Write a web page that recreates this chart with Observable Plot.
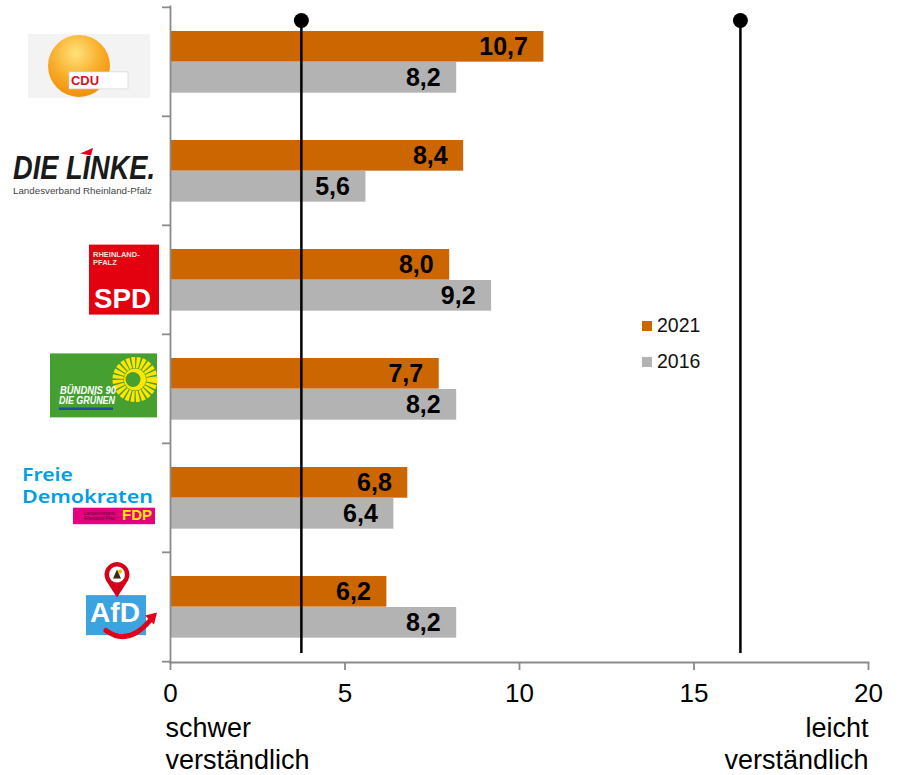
<!DOCTYPE html>
<html>
<head>
<meta charset="utf-8">
<script src="https://cdn.jsdelivr.net/npm/d3@7"></script>
<script src="https://cdn.jsdelivr.net/npm/@observablehq/plot@0.6"></script>
<style>
  html, body { margin: 0; padding: 0; background: #fff; }
  #chart svg { display: block; }
</style>
</head>
<body>
<div id="chart"></div>
<script>
// ---- data ----
const parties = ["CDU", "DIE LINKE", "SPD", "GRÜNE", "FDP", "AfD"];
const values2021 = [10.7, 8.4, 8.0, 7.7, 6.8, 6.2];
const values2016 = [8.2, 5.6, 9.2, 8.2, 6.4, 8.2];
const years = ["2021", "2016"];
const xTicks = [0, 5, 10, 15, 20];
const referenceLines = [3.75, 16.33];
const axisEndLabels = ["schwer\nverständlich", "leicht\nverständlich"];

// ---- styles ----
const C2021 = "#CC6600", C2016 = "#B3B3B3", AXIS = "#8a8a8a";
const W = 898, H = 775, MT = 6, MB = 113, ML = 170, MR = 30;
const bw = (H - MT - MB) / parties.length;

const rows2021 = parties.map((p, i) => ({party: p, value: values2021[i]}));
const rows2016 = parties.map((p, i) => ({party: p, value: values2016[i]}));
const fmt = v => d3.format(".1f")(v).replace(".", ",");

function logos(index, scales, values, dims) {
  const g = d3.create("svg:g").attr("text-anchor", "start")
    .attr("font-family", "Liberation Sans, Arial, sans-serif");
  const band = scales.y.bandwidth ? scales.y.bandwidth() : bw;
  const X0 = scales.x(0);
  const at = p => g.append("g").attr("transform", `translate(${X0},${scales.y(p) + band / 2})`);
  const defs = g.append("defs");
  const rg = defs.append("radialGradient").attr("id", "cduGrad")
    .attr("cx", "45%").attr("cy", "30%").attr("r", "75%");
  rg.append("stop").attr("offset", "0%").attr("stop-color", "#ffe27a");
  rg.append("stop").attr("offset", "55%").attr("stop-color", "#f8ac2a");
  rg.append("stop").attr("offset", "100%").attr("stop-color", "#ef8a05");

  // CDU
  let l = at(parties[0]);
  l.append("rect").attr("x", -142).attr("y", -27.6).attr("width", 122).attr("height", 64).attr("fill", "#f3f3f3");
  l.append("circle").attr("cx", -91).attr("cy", 4.4).attr("r", 31).attr("fill", "url(#cduGrad)");
  l.append("rect").attr("x", -101).attr("y", 10.4).attr("width", 59).attr("height", 17).attr("fill", "#fff")
    .attr("stroke", "#d0d0d0").attr("stroke-width", 0.6);
  l.append("text").attr("x", -99).attr("y", 23.4).attr("font-size", 12).attr("font-weight", "bold")
    .attr("fill", "#d40f1e").attr("textLength", 28).attr("lengthAdjust", "spacingAndGlyphs").text("CDU");

  // DIE LINKE
  l = at(parties[1]);
  l.append("text").attr("x", -157).attr("y", 8.2).attr("font-size", 34).attr("font-weight", "bold")
    .attr("font-style", "italic").attr("fill", "#1a1a1a").attr("textLength", 142)
    .attr("lengthAdjust", "spacingAndGlyphs").text("DIE LINKE.");
  l.append("polygon").attr("points", "-90,-17 -77,-22.5 -79,-15").attr("fill", "#e2001a");
  l.append("text").attr("x", -157).attr("y", 23).attr("font-size", 9.5).attr("fill", "#444")
    .attr("textLength", 139).attr("lengthAdjust", "spacingAndGlyphs").text("Landesverband Rheinland-Pfalz");

  // SPD
  l = at(parties[2]);
  l.append("rect").attr("x", -81).attr("y", -34.9).attr("width", 70).attr("height", 70).attr("fill", "#E3000F");
  l.append("text").attr("x", -77).attr("y", -23).attr("font-size", 7.5).attr("font-weight", "bold")
    .attr("fill", "#fbe0e0").text("RHEINLAND-");
  l.append("text").attr("x", -77).attr("y", -15).attr("font-size", 7.5).attr("font-weight", "bold")
    .attr("fill", "#fbe0e0").text("PFALZ");
  l.append("text").attr("x", -76).attr("y", 28).attr("font-size", 28).attr("font-weight", "bold")
    .attr("fill", "#fff").attr("textLength", 57).attr("lengthAdjust", "spacingAndGlyphs").text("SPD");

  // GRÜNE
  l = at(parties[3]);
  l.append("rect").attr("x", -120).attr("y", -35.1).attr("width", 107).attr("height", 64).attr("fill", "#45A031");
  l.append("circle").attr("cx", -35).attr("cy", -9).attr("r", 17).attr("fill", "none")
    .attr("stroke", "#FFE500").attr("stroke-width", 11).attr("stroke-dasharray", "3.2 1.3");
  l.append("circle").attr("cx", -35).attr("cy", -9).attr("r", 11).attr("fill", "#FFE500");
  l.append("circle").attr("cx", -37).attr("cy", -9).attr("r", 7.5).attr("fill", "#45A031");
  l.append("rect").attr("x", -111).attr("y", 19).attr("width", 54).attr("height", 2.5).attr("fill", "#1d4f9c");
  l.append("text").attr("x", -110).attr("y", 5).attr("font-size", 10).attr("font-weight", "bold")
    .attr("font-style", "italic").attr("fill", "#fff").attr("textLength", 56)
    .attr("lengthAdjust", "spacingAndGlyphs").text("BÜNDNIS 90");
  l.append("text").attr("x", -111).attr("y", 15.5).attr("font-size", 10).attr("font-weight", "bold")
    .attr("font-style", "italic").attr("fill", "#fff").attr("textLength", 56)
    .attr("lengthAdjust", "spacingAndGlyphs").text("DIE GRÜNEN");

  // FDP
  l = at(parties[4]);
  l.append("text").attr("x", -148).attr("y", -17).attr("font-size", 17).attr("font-weight", 600)
    .attr("font-family", "Noto Sans, sans-serif").attr("fill", "#009EE3").attr("textLength", 51)
    .attr("lengthAdjust", "spacingAndGlyphs").text("Freie");
  l.append("text").attr("x", -148).attr("y", 5.7).attr("font-size", 18.5).attr("font-weight", 600)
    .attr("font-family", "Noto Sans, sans-serif").attr("fill", "#009EE3").attr("textLength", 131)
    .attr("lengthAdjust", "spacingAndGlyphs").text("Demokraten");
  l.append("rect").attr("x", -97).attr("y", 10.2).attr("width", 82).attr("height", 16.5).attr("fill", "#E5007D");
  l.append("text").attr("x", -86).attr("y", 17.5).attr("font-size", 4.5).attr("fill", "#5a0a30").text("Landesverband");
  l.append("text").attr("x", -86).attr("y", 22.5).attr("font-size", 4.5).attr("fill", "#5a0a30").text("Rheinland-Pfalz");
  l.append("text").attr("x", -48).attr("y", 22.7).attr("font-size", 14).attr("font-weight", "bold")
    .attr("fill", "#FFED00").attr("textLength", 30).attr("lengthAdjust", "spacingAndGlyphs").text("FDP");

  // AfD
  l = at(parties[5]);
  l.append("rect").attr("x", -84).attr("y", -11.4).attr("width", 60).attr("height", 40).attr("fill", "#3AA3E0");
  l.append("text").attr("x", -80).attr("y", 15.6).attr("font-size", 28).attr("font-weight", "bold")
    .attr("fill", "#fff").attr("textLength", 50).attr("lengthAdjust", "spacingAndGlyphs").text("AfD");
  l.append("path").attr("d", "M-64,24 Q-42,40 -20,14").attr("fill", "none").attr("stroke", "#e2001a")
    .attr("stroke-width", 5).attr("stroke-linecap", "round");
  l.append("polygon").attr("points", "-25,9 -13,6 -16,18").attr("fill", "#e2001a");
  l.append("path").attr("d", "M-64,-26 A12.5,12.5 0 1 1 -42,-26 L-53,-9 Z").attr("fill", "#d5001a");
  l.append("circle").attr("cx", -53).attr("cy", -32).attr("r", 8).attr("fill", "#fff");
  l.append("path").attr("d", "M-57,-28 L-53,-37 L-49,-28 Z").attr("fill", "#3a2a1a");
  l.append("circle").attr("cx", -50).attr("cy", -35).attr("r", 2).attr("fill", "#e8c000");

  // legend
  const lg = g.append("g");
  years.forEach((yr, i) => {
    lg.append("rect").attr("x", 642).attr("y", 321 + i * 36).attr("width", 10).attr("height", 10)
      .attr("fill", i === 0 ? C2021 : C2016);
    lg.append("text").attr("x", 657).attr("y", 332 + i * 36).attr("font-size", 19.5)
      .attr("fill", "#111").text(yr);
  });
  return g.node();
}

const chart = Plot.plot({
  width: W, height: H,
  marginTop: MT, marginBottom: MB, marginLeft: ML, marginRight: MR,
  style: {fontFamily: "Liberation Sans, Arial, sans-serif", background: "#fff", color: "#000", overflow: "visible"},
  x: {domain: [xTicks[0], xTicks[xTicks.length - 1]]},
  y: {domain: parties, axis: null, padding: 0},
  marks: [
    Plot.barX(rows2021, {x: "value", y: "party", fill: C2021, insetTop: 24, insetBottom: bw - 55}),
    Plot.barX(rows2016, {x: "value", y: "party", fill: C2016, insetTop: 55, insetBottom: bw - 86}),
    Plot.text(rows2021, {x: "value", y: "party", text: d => fmt(d.value), textAnchor: "end", dx: -16,
      dy: 39.5 - bw / 2, fontSize: 25, fontWeight: "bold", fill: "#000"}),
    Plot.text(rows2016, {x: "value", y: "party", text: d => fmt(d.value), textAnchor: "end", dx: -16,
      dy: 70.5 - bw / 2, fontSize: 25, fontWeight: "bold", fill: "#000"}),
    Plot.ruleX(referenceLines, {x: d => d, stroke: "#000", strokeWidth: 2.5, insetTop: 14, insetBottom: 9}),
    Plot.dot(referenceLines, {x: d => d, frameAnchor: "top", dy: 14, r: 7.5, fill: "#000", stroke: null}),
    Plot.frame({anchor: "left", stroke: AXIS, strokeWidth: 1.8}),
    Plot.frame({anchor: "bottom", stroke: AXIS, strokeWidth: 1.8}),
    Plot.ruleY(parties, {y: d => d, x1: 0, x2: 0, insetLeft: -8, dy: -bw / 2, stroke: AXIS, strokeWidth: 1.8}),
    Plot.ruleY([parties[parties.length - 1]], {y: d => d, x1: 0, x2: 0, insetLeft: -8, dy: bw / 2, stroke: AXIS, strokeWidth: 1.8}),
    Plot.axisX({ticks: xTicks, tickSize: 8, tickPadding: 13, fontSize: 26, stroke: AXIS, strokeWidth: 1.8,
      fill: "#000", label: null, tickFormat: d => String(d)}),
    Plot.text([axisEndLabels[0]], {x: xTicks[0], text: d => d, frameAnchor: "bottom", textAnchor: "start",
      lineAnchor: "top", dx: -5, dy: 51, lineHeight: 1.2, fontSize: 27, fill: "#000"}),
    Plot.text([axisEndLabels[1]], {x: xTicks[xTicks.length - 1], text: d => d, frameAnchor: "bottom", textAnchor: "end",
      lineAnchor: "top", dx: 0, dy: 51, lineHeight: 1.2, fontSize: 27, fill: "#000"}),
    logos
  ]
});
document.getElementById("chart").appendChild(chart);
</script>
</body>
</html>
